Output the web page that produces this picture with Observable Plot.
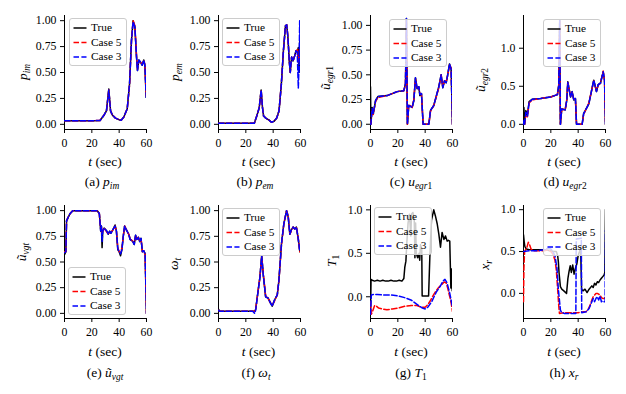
<!DOCTYPE html>
<html><head><meta charset="utf-8">
<script src="https://cdn.jsdelivr.net/npm/d3@7"></script>
<script src="https://cdn.jsdelivr.net/npm/@observablehq/plot@0.6"></script>
<style>
body{margin:0;background:#fff}
#fig{position:relative;width:626px;height:394px;overflow:hidden;font-family:"Liberation Serif","Times New Roman",Times,"DejaVu Serif","Noto Serif",serif;color:#000;background:#fff}
#fig svg text{font-family:"Liberation Serif","Times New Roman",Times,"DejaVu Serif","Noto Serif",serif}
.t{position:absolute;white-space:nowrap;transform:translate(-50%,-50%);line-height:1;font-size:13.5px}
.ylab{transform:translate(-50%,-50%) rotate(-90deg)}
sub{font-size:0.7em;vertical-align:-0.3em;line-height:0}
.leg{position:absolute;box-sizing:border-box;width:58px;height:48px;border:1px solid #cccccc;border-radius:3px;background:rgba(255,255,255,0.8)}
.leg div{position:absolute;left:21px;font-size:11.3px;line-height:1;transform:translateY(-50%)}
.leg svg{position:absolute;left:3px;top:0}
</style></head>
<body><div id="fig"></div>
<script>
// ---------- data ----------
const xTicks = [0, 20, 40, 60];
const legendLabels = ["True", "Case 5", "Case 3"];

// (a) p_im
const tA = [0,5,10,15,20,26,29,30.7,32.4,33.7,35,37.3,39.8,41.5,43.4,45.9,47.6,49,50.2,51.5,52.7,53.4,54.4,55.6,56.8,58,58.8,59.8];
const pimTrue  = [0.035,0.035,0.035,0.035,0.035,0.037,0.09,0.13,0.34,0.13,0.09,0.06,0.045,0.04,0.07,0.15,0.39,0.81,1.0,0.94,0.65,0.52,0.62,0.6,0.57,0.62,0.57,0.26];
const pimCase5 = [0.035,0.035,0.035,0.035,0.035,0.037,0.09,0.13,0.33,0.13,0.09,0.06,0.045,0.04,0.07,0.15,0.38,0.8,1.0,0.95,0.66,0.53,0.61,0.6,0.58,0.61,0.58,0.27];
const pimCase3 = [0.035,0.035,0.035,0.035,0.035,0.037,0.09,0.13,0.33,0.13,0.09,0.06,0.045,0.04,0.07,0.15,0.39,0.81,0.99,0.94,0.65,0.52,0.62,0.6,0.57,0.62,0.57,0.26];

// (b) p_em
const tB = [0,5,10,15,20,26.2,28,29.8,31.2,32.2,33,34.6,37,38.7,40.7,42.6,44.3,46,47.5,49,49.9,50.8,51.8,52.5,53.5,54.5,55.7,56.7,57.6,58.4,59,59.4,60];
const pemTrue  = [0.01,0.01,0.01,0.01,0.01,0.01,0.08,0.16,0.33,0.16,0.08,0.06,0.04,0.02,0.03,0.06,0.13,0.39,0.71,0.95,0.96,0.84,0.61,0.5,0.65,0.61,0.66,0.71,0.7,0.74,0.5,0.8,0.55];
const pemCase5 = [0.01,0.01,0.01,0.01,0.01,0.01,0.08,0.16,0.33,0.16,0.08,0.06,0.04,0.02,0.03,0.06,0.13,0.39,0.71,0.95,0.96,0.84,0.61,0.5,0.65,0.61,0.66,0.71,0.72,0.6,0.68,0.75,0.6];
const pemCase3 = [0.01,0.01,0.01,0.01,0.01,0.01,0.08,0.16,0.33,0.16,0.08,0.06,0.04,0.02,0.03,0.06,0.13,0.39,0.71,0.95,0.96,0.84,0.61,0.5,0.65,0.61,0.66,0.71,0.7,0.35,0.6,1.0,0.5];

// (c) u_egr1
const tC = [0,0.3,1.2,2,3.7,5.4,12.2,19.5,24.4,25.6,26.3,27,28,30.5,31.7,32.9,34.1,35.4,36.1,37.3,38.5,42.7,43.9,46.3,50,51.7,52.9,54.2,55.4,56.6,57.8,59,60];
const egr1True  = [0.38,0.0,0.17,0.1,0.24,0.28,0.29,0.33,0.34,0.41,1.07,0.0,0.19,0.17,0.24,0.47,0.36,0.38,0.29,0.31,0.0,0.0,0.14,0.19,0.38,0.5,0.37,0.44,0.42,0.51,0.61,0.56,0.0];
const egr1Case5 = [0.0,0.0,0.15,0.1,0.23,0.27,0.29,0.33,0.34,0.4,1.05,0.0,0.2,0.17,0.25,0.46,0.37,0.37,0.31,0.3,0.0,0.0,0.13,0.19,0.37,0.5,0.38,0.44,0.43,0.5,0.6,0.57,0.0];
const egr1Case3 = [0.0,0.0,0.16,0.11,0.24,0.28,0.29,0.33,0.34,0.41,1.07,0.0,0.19,0.17,0.24,0.47,0.36,0.38,0.3,0.31,0.0,0.0,0.14,0.19,0.38,0.5,0.37,0.44,0.42,0.51,0.61,0.56,0.0];

// (d) u_egr2
const tD = [0,0.3,0.8,1.7,2.9,4.1,6.5,12.6,19.9,24.8,25.8,26.5,27,28,30.5,31.7,32.4,34.4,35.6,36.8,38,38.8,42.9,44,47.8,51.4,53.4,54.6,56.3,58.3,59.3,60];
const egr2True  = [0.05,0.22,0.0,0.18,0.12,0.3,0.33,0.34,0.36,0.39,0.52,1.37,0.0,0.2,0.19,0.32,0.56,0.36,0.43,0.32,0.34,0.0,0.0,0.14,0.27,0.58,0.43,0.52,0.54,0.69,0.58,0.0];
const egr2Case5 = [0.0,0.0,0.0,0.12,0.1,0.28,0.32,0.34,0.36,0.39,0.5,1.35,0.0,0.2,0.19,0.33,0.55,0.37,0.42,0.33,0.33,0.0,0.0,0.13,0.28,0.57,0.44,0.51,0.54,0.7,0.58,0.0];
const egr2Case3 = [0.0,0.05,0.0,0.16,0.11,0.29,0.33,0.34,0.36,0.39,0.51,1.37,0.0,0.2,0.19,0.32,0.55,0.36,0.43,0.32,0.34,0.0,0.0,0.14,0.27,0.58,0.43,0.52,0.54,0.69,0.58,0.0];

// (e) u_vgt
const tE = [0,1,1.5,2.5,4,6,10,15,20,24,25.5,26.5,27,27.5,28,29,31,32,33,34,36,37,38,39,40,41,42,43,44,45,47,48,50,51,52,53,54,55,56,57,58,59,60];
const vgtTrue  = [0.57,0.6,0.9,0.93,0.97,1.0,1.0,1.0,1.0,1.0,0.97,0.8,0.85,0.64,0.8,0.83,0.8,0.77,0.8,0.78,0.83,0.86,0.8,0.62,0.6,0.56,0.62,0.75,0.85,0.82,0.77,0.72,0.7,0.67,0.76,0.72,0.74,0.7,0.73,0.6,0.61,0.58,0.0];
const vgtCase5 = [0.6,0.6,0.9,0.93,0.97,1.0,1.0,1.0,1.0,1.0,0.97,0.82,0.84,0.78,0.8,0.83,0.79,0.77,0.79,0.79,0.82,0.85,0.8,0.64,0.6,0.6,0.63,0.75,0.85,0.82,0.77,0.73,0.7,0.68,0.75,0.72,0.74,0.71,0.72,0.6,0.61,0.57,0.0];
const vgtCase3 = [0.59,0.6,0.9,0.93,0.97,1.0,1.0,1.0,1.0,1.0,0.97,0.8,0.85,0.7,0.8,0.83,0.8,0.77,0.8,0.78,0.83,0.85,0.8,0.63,0.6,0.58,0.62,0.75,0.85,0.82,0.77,0.72,0.7,0.67,0.76,0.72,0.74,0.7,0.73,0.6,0.61,0.58,0.0];

// (f) omega_t
const tF = [0,1,5,10,15,20,25,26.5,27.2,28.4,30.3,31.6,32.8,34.5,36.2,38.1,39.3,41,43,44.2,46.1,47.8,49.8,51,52.2,53.2,54.6,55.8,57,58.3,59.5];
const omegaTrue  = [0.04,0.02,0.02,0.02,0.02,0.02,0.02,0.02,0.04,0.16,0.35,0.56,0.37,0.16,0.15,0.1,0.07,0.13,0.18,0.32,0.68,0.87,1.0,0.94,0.77,0.81,0.84,0.82,0.84,0.73,0.6];
const omegaCase5 = [0.03,0.02,0.02,0.02,0.02,0.02,0.02,0.02,0.04,0.16,0.35,0.55,0.38,0.17,0.15,0.1,0.08,0.12,0.18,0.32,0.67,0.87,1.0,0.95,0.77,0.8,0.84,0.82,0.84,0.74,0.6];
const omegaCase3 = [0.03,0.02,0.02,0.02,0.02,0.02,0.02,0.0,0.03,0.16,0.35,0.56,0.37,0.16,0.15,0.1,0.07,0.13,0.18,0.32,0.68,0.87,1.0,0.94,0.77,0.81,0.84,0.82,0.84,0.73,0.6];

// (g) T1
const tG = [0,0.4,1.2,3,5,7,9,11,13,15,17,19,21,23,24.4,25.1,25.9,26.5,27.5,28.5,29.5,30,31,32,32.5,33,33.5,34.5,35.5,36,36.6,37.5,37.8,42.5,43.4,44.6,46.3,47.5,48.8,50,51.2,52.4,53.7,54.9,56.1,57,58,58.8,59.3,59.8];
const t1True = [-0.2,0.2,0.19,0.18,0.19,0.18,0.19,0.18,0.18,0.19,0.18,0.18,0.19,0.18,0.21,0.34,0.41,0.6,0.85,0.95,0.7,0.95,0.97,0.9,0.45,0.85,0.5,0.45,0.5,0.42,0.6,0.55,0.01,0.01,0.45,0.88,1.0,0.93,0.84,0.72,0.57,0.74,0.66,0.7,0.64,0.65,0.64,0.1,0.32,0.07];
const tG5 = [0,0.6,1.5,3,4.5,6,9,12,16,20,25,30,34,37,40,42,44,46,48,50,52,54,55.3,56.5,57.5,58.5,59.3,60];
const t1Case5 = [-0.06,-0.2,-0.17,-0.1,-0.11,-0.13,-0.14,-0.15,-0.14,-0.13,-0.11,-0.1,-0.1,-0.12,-0.12,-0.09,-0.04,0.02,0.07,0.11,0.14,0.17,0.16,0.1,0.03,-0.03,-0.1,-0.17];
const tG3 = [0,0.6,2,5,10,15,20,25,30,35,38,40,42,45,48,51,53,54.5,56,57,58,59,60];
const t1Case3 = [-0.2,0.02,0.025,0.025,0.02,0.02,0.01,-0.01,-0.04,-0.1,-0.13,-0.14,-0.12,-0.05,0.05,0.12,0.18,0.2,0.16,0.1,0.04,-0.04,-0.12];

// (h) x_r
const tH = [0,0.5,1,2,5,10,15,20,22,24,25,25.5,26,27,28,29.5,31.5,32.5,33.3,34.2,35,36,37,38,39,40,41,41.8,42.5,43.5,45,46.5,48,50,51,52,53,54,55,56,57,58,59,59.5,60];
const xrTrue = [0.7,0.62,0.56,0.53,0.52,0.52,0.52,0.51,0.5,0.5,0.45,0.38,0.25,0.08,0.05,0.03,0.0,0.18,0.26,0.33,0.25,0.34,0.23,0.3,0.35,0.45,0.5,0.55,0.05,0.03,0.05,0.01,0.05,0.09,0.07,0.12,0.1,0.14,0.13,0.16,0.18,0.2,0.22,0.25,1.0];
const tH5 = [0,0.3,0.8,1.5,2.5,3.5,4.5,5.5,7,10,15,18,20,21.5,23,24,25,25.8,26.3,30,35,40,44,45.5,47,48.5,50,51,52,53,54,55,56,57,58,59,60];
const xrCase5 = [-0.1,0.3,0.5,0.52,0.55,0.61,0.58,0.53,0.51,0.51,0.51,0.52,0.5,0.47,0.4,0.28,0.05,-0.15,-0.24,-0.23,-0.23,-0.23,-0.22,-0.22,-0.2,-0.15,-0.08,-0.04,-0.02,0.0,0.0,-0.01,-0.02,-0.05,-0.06,-0.06,-0.05];
const tH3 = [0,5,10,15,18,20,21.5,23,24.5,25.5,27,28,30,35,38.3,38.6,42.3,42.6,46,48,50,51,52,53,54,55,56,57,58,59,59.7,60];
const xrCase3 = [0.5,0.51,0.51,0.52,0.54,0.53,0.5,0.45,0.3,0.05,-0.2,-0.23,-0.24,-0.24,-0.24,0.65,0.66,-0.23,-0.22,-0.18,-0.1,-0.06,-0.1,-0.06,-0.04,-0.08,-0.03,-0.1,-0.09,-0.1,-0.1,0.75];

// ---------- layout / rendering ----------
const SERIF = '"Liberation Serif", "Times New Roman", Times, "DejaVu Serif", "Noto Serif", serif';
const zipT = (ts, vs) => ts.map((t, i) => ({t, v: vs[i]}));
const rows = [{top: 15, h: 114, xlab: 161.5, cap: 181.5}, {top: 205, h: 113, xlab: 351.5, cap: 372.5}];
const T4 = [0, 0.25, 0.5, 0.75, 1];
const T3 = [0, 0.5, 1];
const panels = [
  {x0: 64, row: 0, dom: [-0.05, 1.05], ticks: T4, fmt: ".2f", s: [[tA, pimTrue], [tA, pimCase5], [tA, pimCase3]], leg: [69, 18], yl: [23, 72, "<i>p</i><sub><i>im</i></sub>"], cap: [102, "(a) <i>p</i><sub><i>im</i></sub>"]},
  {x0: 217.5, row: 0, dom: [-0.05, 1.05], ticks: T4, fmt: ".2f", s: [[tB, pemTrue], [tB, pemCase5], [tB, pemCase3]], leg: [222, 18], yl: [175, 72, "<i>p</i><sub><i>em</i></sub>"], cap: [255, "(b) <i>p</i><sub><i>em</i></sub>"]},
  {x0: 370, row: 0, dom: [-0.053, 1.10], ticks: T4, fmt: ".2f", s: [[tC, egr1True], [tC, egr1Case5], [tC, egr1Case3]], leg: [389, 19], yl: [326, 78, "<i>ũ</i><sub><i>egr</i>1</sub>"], cap: [411, "(c) <i>u</i><sub><i>egr</i>1</sub>"]},
  {x0: 523, row: 0, dom: [-0.068, 1.43], ticks: T3, fmt: ".1f", s: [[tD, egr2True], [tD, egr2Case5], [tD, egr2Case3]], leg: [543, 19], yl: [481, 80, "<i>ũ</i><sub><i>egr</i>2</sub>"], cap: [565, "(d) <i>u</i><sub><i>egr</i>2</sub>"]},
  {x0: 64, row: 1, dom: [-0.05, 1.05], ticks: T4, fmt: ".2f", s: [[tE, vgtTrue], [tE, vgtCase5], [tE, vgtCase3]], leg: [68, 267], yl: [22, 252, "<i>ũ</i><sub><i>vgt</i></sub>"], cap: [105, "(e) <i>ũ</i><sub><i>vgt</i></sub>"]},
  {x0: 217.5, row: 1, dom: [-0.05, 1.05], ticks: T4, fmt: ".2f", s: [[tF, omegaTrue], [tF, omegaCase5], [tF, omegaCase3]], leg: [222, 208], yl: [174, 264, "<i>ω</i><sub><i>t</i></sub>"], cap: [256, "(f) <i>ω</i><sub><i>t</i></sub>"]},
  {x0: 370, row: 1, dom: [-0.25, 1.05], ticks: T3, fmt: ".1f", s: [[tG, t1True], [tG5, t1Case5], [tG3, t1Case3]], leg: [374, 207], yl: [332, 261, "<i>T</i><sub>1</sub>"], cap: [411, "(g) <i>T</i><sub>1</sub>"]},
  {x0: 523, row: 1, dom: [-0.30, 1.05], ticks: T3, fmt: ".1f", s: [[tH, xrTrue], [tH5, xrCase5], [tH3, xrCase3]], leg: [543, 208], yl: [485, 265, "<i>x</i><sub><i>r</i></sub>"], cap: [564, "(h) <i>x</i><sub><i>r</i></sub>"]}
];
const styles = [
  {stroke: "black", strokeWidth: 1.5},
  {stroke: "#ff0000", strokeWidth: 1.5, strokeDasharray: "5.5,2.4"},
  {stroke: "#0000ff", strokeWidth: 1.5, strokeDasharray: "5.5,2.4"}
];
const fig = document.getElementById("fig");
const ML = 50, MR = 8, MT = 15, MB = 30, W = 82;

function addText(x, y, html, cls) {
  const d = document.createElement("div");
  d.className = "t" + (cls ? " " + cls : "");
  d.style.left = x + "px"; d.style.top = y + "px";
  d.innerHTML = html;
  fig.appendChild(d);
}

for (const p of panels) {
  const r = rows[p.row];
  const chart = Plot.plot({
    width: ML + W + MR, height: MT + r.h + MB,
    marginLeft: ML, marginRight: MR, marginTop: MT, marginBottom: MB,
    style: {fontFamily: SERIF, fontSize: "11.8px", color: "black", background: "transparent", overflow: "visible"},
    x: {domain: [0, 60], ticks: xTicks, tickFormat: d3.format("d"), tickSize: 4, tickPadding: 5.5, label: null},
    y: {domain: p.dom, ticks: p.ticks, tickFormat: d3.format(p.fmt), tickSize: 4, tickPadding: 4, label: null},
    marks: [
      Plot.ruleX([0], {stroke: "black", strokeWidth: 1}),
      Plot.ruleY([p.dom[0]], {stroke: "black", strokeWidth: 1}),
      ...p.s.map(([ts, vs], i) => Plot.line(zipT(ts, vs), {x: "t", y: "v", clip: true, ...styles[i]}))
    ]
  });
  chart.style.position = "absolute";
  chart.style.left = (p.x0 - ML) + "px";
  chart.style.top = (r.top - MT) + "px";
  fig.appendChild(chart);

  addText(p.yl[0], p.yl[1], p.yl[2], "ylab");
  addText(p.x0 + W / 2, r.xlab, "<i>t</i> (sec)");
  addText(p.cap[0], r.cap, p.cap[1]);

  const leg = document.createElement("div");
  leg.className = "leg";
  leg.style.left = p.leg[0] + "px"; leg.style.top = p.leg[1] + "px";
  const ys = [10, 24.5, 39];
  let svg = '<svg width="16" height="48">';
  styles.forEach((s, i) => {
    svg += `<line x1="0.5" x2="13.5" y1="${ys[i] - 1}" y2="${ys[i] - 1}" stroke="${s.stroke}" stroke-width="1.5"${s.strokeDasharray ? ` stroke-dasharray="${s.strokeDasharray}"` : ""}/>`;
  });
  svg += "</svg>";
  leg.innerHTML = svg + legendLabels.map((l, i) => `<div style="top:${ys[i] - 1}px">${l}</div>`).join("");
  fig.appendChild(leg);
}
</script></body></html>
